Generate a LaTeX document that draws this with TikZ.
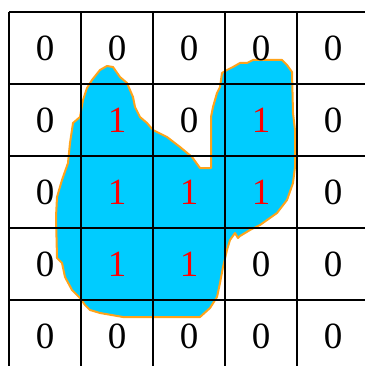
\documentclass[tikz,border=0pt]{standalone}
\usepackage{fontspec}
\setmainfont{Liberation Serif}
\definecolor{blobfill}{HTML}{00CCFF}
\definecolor{bloborange}{HTML}{FFA31A}
\definecolor{onered}{HTML}{FF0000}
\begin{document}
\begin{tikzpicture}[x=1pt,y=-1pt,
  gridline/.style={black,line width=2pt},
  blob/.style={fill=blobfill,draw=bloborange,line width=2pt,line join=round},
  zero/.style={font=\fontsize{37}{37}\selectfont,text=black,inner sep=0pt},
  one/.style={font=\fontsize{37}{37}\selectfont,text=onered,inner sep=0pt}]
\useasboundingbox (0,0) rectangle (365,366);
\fill[white] (0,0) rectangle (365,366);
% blob
\draw[blob] (107,66) -- (100,70) -- (92,80) -- (87,88) -- (83,100) -- (80,117) -- (73,123)
  -- (70,143) -- (68,163) -- (62,180) -- (57,197) -- (56,217) -- (57,258) -- (62,263)
  -- (65,277) -- (72,290) -- (80,298) -- (85,305) -- (90,310) -- (100,313) -- (123,317)
  -- (200,317) -- (210,308) -- (217,297) -- (220,283) -- (223,267) -- (227,250)
  -- (230,240) -- (235,233) -- (238,238) -- (240,236) -- (250,230) -- (260,225)
  -- (277,213) -- (287,200) -- (293,183) -- (295,167) -- (295,130) -- (293,113)
  -- (292,72) -- (287,65) -- (282,60) -- (253,60) -- (247,63) -- (240,63) -- (233,67)
  -- (227,70) -- (222,73) -- (220,87) -- (217,93) -- (213,107) -- (211,117)
  -- (211,168) -- (200,168) -- (192,157) -- (180,147) -- (167,137) -- (153,130)
  -- (147,123) -- (140,117) -- (135,107) -- (133,97) -- (127,83) -- (120,77)
  -- (113,67) -- cycle;
% grid
\foreach \x in {9,81,153,225,297} \draw[gridline] (\x,12) -- (\x,366);
\foreach \y in {12,84,156,228,300} \draw[gridline] (9,\y) -- (365,\y);
% numbers
\node[zero] (c11) at (45,48) {0};
\node[zero] (c12) at (117,48) {0};
\node[zero] (c13) at (189,48) {0};
\node[zero] (c14) at (261,48) {0};
\node[zero] (c15) at (333,48) {0};
\node[zero] (c21) at (45,120) {0};
\node[one]  (c22) at (117,120) {1};
\node[zero] (c23) at (189,120) {0};
\node[one]  (c24) at (261,120) {1};
\node[zero] (c25) at (333,120) {0};
\node[zero] (c31) at (45,192) {0};
\node[one]  (c32) at (117,192) {1};
\node[one]  (c33) at (189,192) {1};
\node[one]  (c34) at (261,192) {1};
\node[zero] (c35) at (333,192) {0};
\node[zero] (c41) at (45,264) {0};
\node[one]  (c42) at (117,264) {1};
\node[one]  (c43) at (189,264) {1};
\node[zero] (c44) at (261,264) {0};
\node[zero] (c45) at (333,264) {0};
\node[zero] (c51) at (45,336) {0};
\node[zero] (c52) at (117,336) {0};
\node[zero] (c53) at (189,336) {0};
\node[zero] (c54) at (261,336) {0};
\node[zero] (c55) at (333,336) {0};
\end{tikzpicture}
\end{document}
